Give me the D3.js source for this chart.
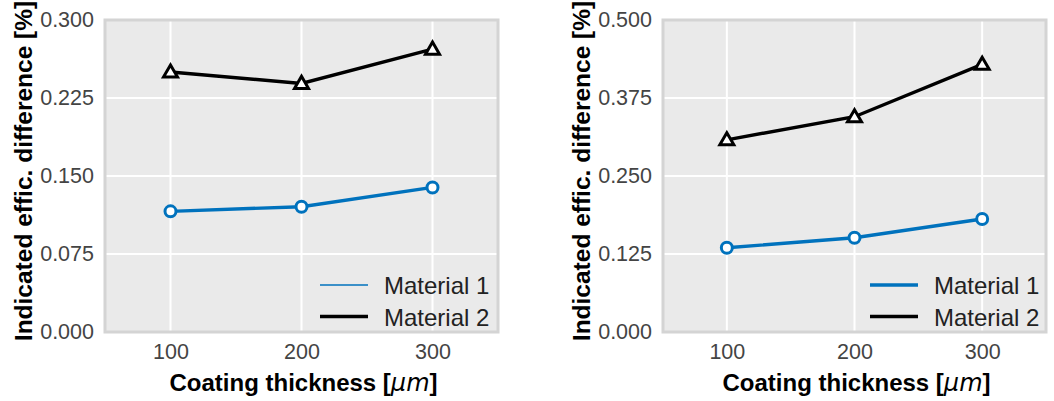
<!DOCTYPE html>
<html>
<head>
<meta charset="utf-8">
<script src="https://cdn.jsdelivr.net/npm/d3@7"></script>
<style>
  html, body { margin: 0; padding: 0; background: #ffffff; }
  svg { display: block; }
  text { font-family: "Liberation Sans", Arial, Helvetica, sans-serif; }
</style>
</head>
<body>
<svg id="chart" width="1054" height="401"></svg>
<script>
// Coating thickness values on the x axis [µm]
const thickness = [100, 200, 300];
const xTicks = [100, 200, 300];
const seriesNames = ["Material 1", "Material 2"];

// Left panel: indicated efficiency difference [%]
const leftMaterial1 = [0.116, 0.1205, 0.139];
const leftMaterial2 = [0.250, 0.239, 0.272];
const leftYTicks = [0.000, 0.075, 0.150, 0.225, 0.300];

// Right panel: indicated efficiency difference [%]
const rightMaterial1 = [0.135, 0.151, 0.181];
const rightMaterial2 = [0.308, 0.345, 0.429];
const rightYTicks = [0.000, 0.125, 0.250, 0.375, 0.500];

const colors = { m1: "#0072BD", m2: "#000000" };

const svg = d3.select("#chart");

function drawPanel(cfg) {
  const { left, right, top, bottom, yMax, yTicks, m1, m2, legendThin } = cfg;

  const x = d3.scaleLinear().domain([50, 350]).range([left, right]);
  const y = d3.scaleLinear().domain([0, yMax]).range([bottom, top]);

  const g = svg.append("g");

  // plot background
  g.append("rect")
    .attr("x", left).attr("y", top)
    .attr("width", right - left).attr("height", bottom - top)
    .attr("fill", "#eaeaea");

  // grid lines
  g.append("g").selectAll("line.h").data(yTicks).join("line")
    .attr("x1", left).attr("x2", right)
    .attr("y1", d => y(d)).attr("y2", d => y(d))
    .attr("stroke", "#ffffff").attr("stroke-width", 2);
  g.append("g").selectAll("line.v").data(xTicks).join("line")
    .attr("x1", d => x(d)).attr("x2", d => x(d))
    .attr("y1", top).attr("y2", bottom)
    .attr("stroke", "#ffffff").attr("stroke-width", 2);

  // frame
  g.append("rect")
    .attr("x", left).attr("y", top)
    .attr("width", right - left).attr("height", bottom - top)
    .attr("fill", "none").attr("stroke", "#d4d4d4").attr("stroke-width", 3);

  // y tick labels
  const yAxis = d3.axisLeft(y).tickValues(yTicks).tickFormat(d3.format(".3f"))
    .tickSize(0).tickPadding(11);
  const ya = g.append("g").attr("transform", `translate(${left},0)`).call(yAxis);
  ya.select(".domain").remove();
  ya.selectAll("text")
    .attr("fill", "#444444")
    .style("font-size", "21.5px")
    .style("font-family", "'Liberation Sans', Arial, sans-serif");

  // x tick labels
  const xAxis = d3.axisBottom(x).tickValues(xTicks).tickFormat(d3.format("d"))
    .tickSize(0).tickPadding(12);
  const xa = g.append("g").attr("transform", `translate(0,${bottom})`).call(xAxis);
  xa.select(".domain").remove();
  xa.selectAll("text")
    .attr("fill", "#444444")
    .style("font-size", "21.5px")
    .style("font-family", "'Liberation Sans', Arial, sans-serif");

  // axis titles
  const xt = g.append("text")
    .attr("x", (left + right) / 2 + 2).attr("y", 391)
    .attr("text-anchor", "middle")
    .attr("font-size", 24).attr("font-weight", "bold").attr("fill", "#000");
  xt.append("tspan").text("Coating thickness [");
  xt.append("tspan").attr("font-style", "italic").attr("font-weight", "normal")
    .attr("font-family", "'DejaVu Sans', sans-serif").text("μm");
  xt.append("tspan").text("]");

  g.append("text")
    .attr("transform", `translate(${cfg.yLabelX},${(top + bottom) / 2 - 5}) rotate(-90)`)
    .attr("text-anchor", "middle")
    .attr("font-size", 24.5).attr("font-weight", "bold").attr("fill", "#000")
    .text("Indicated effic. difference [%]");

  // series lines
  const line = d3.line().x((d, i) => x(thickness[i])).y(d => y(d));
  g.append("path").datum(m1).attr("d", line)
    .attr("fill", "none").attr("stroke", colors.m1).attr("stroke-width", 3.4);
  g.append("path").datum(m2).attr("d", line)
    .attr("fill", "none").attr("stroke", colors.m2).attr("stroke-width", 3.4);

  // markers
  g.append("g").selectAll("circle").data(m1).join("circle")
    .attr("cx", (d, i) => x(thickness[i])).attr("cy", d => y(d))
    .attr("r", 5.5).attr("fill", "#ffffff")
    .attr("stroke", colors.m1).attr("stroke-width", 3);
  const tri = d3.symbol().type(d3.symbolTriangle).size(85);
  g.append("g").selectAll("path").data(m2).join("path")
    .attr("d", tri)
    .attr("transform", (d, i) => `translate(${x(thickness[i])},${y(d) + 1})`)
    .attr("fill", "#ffffff").attr("stroke", colors.m2)
    .attr("stroke-width", 3).attr("stroke-linejoin", "miter");

  // legend
  const lg = g.append("g").attr("transform", `translate(${cfg.legendX},0)`);
  const rows = [
    { name: seriesNames[0], color: colors.m1, w: legendThin ? 1.6 : 3.4, yy: 285 },
    { name: seriesNames[1], color: colors.m2, w: 3.4, yy: 316.5 }
  ];
  rows.forEach(r => {
    lg.append("line").attr("x1", 0).attr("x2", 48)
      .attr("y1", r.yy).attr("y2", r.yy)
      .attr("stroke", r.color).attr("stroke-width", r.w);
    lg.append("text").attr("x", 64).attr("y", r.yy + 9)
      .attr("font-size", 24).attr("fill", "#222222").text(r.name);
  });
}

drawPanel({
  left: 105, right: 498, top: 20, bottom: 332,
  yMax: 0.3, yTicks: leftYTicks, m1: leftMaterial1, m2: leftMaterial2,
  yLabelX: 32, legendX: 320, legendThin: true
});

drawPanel({
  left: 663, right: 1046, top: 20, bottom: 332,
  yMax: 0.5, yTicks: rightYTicks, m1: rightMaterial1, m2: rightMaterial2,
  yLabelX: 590, legendX: 870, legendThin: false
});
</script>
</body>
</html>
